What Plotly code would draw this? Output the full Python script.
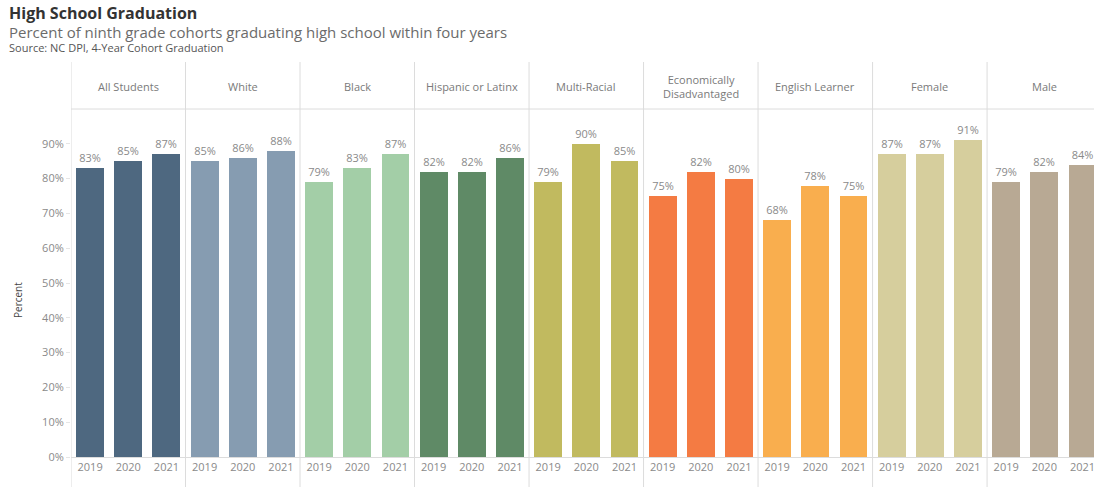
import plotly.graph_objects as go

groups = ["All Students", "White", "Black", "Hispanic or Latinx", "Multi-Racial",
          "Economically<br>Disadvantaged", "English Learner", "Female", "Male"]
years = ["2019", "2020", "2021"]
values = [
    [83, 85, 87],
    [85, 86, 88],
    [79, 83, 87],
    [82, 82, 86],
    [79, 90, 85],
    [75, 82, 80],
    [68, 78, 75],
    [87, 87, 91],
    [79, 82, 84],
]
colors = ["#4E6880", "#869CB1", "#A3CEA7", "#5F8A66", "#C1BA5F",
          "#F47B43", "#F9AE4E", "#D6CE9D", "#B8A994"]
y_ticks = [0, 10, 20, 30, 40, 50, 60, 70, 80, 90]

W, H = 1094, 487
ML, MT, MB = 71, 109, 30
PH = H - MT - MB
PW = W - ML

def xp(px):
    return (px - ML) / PW

def yp(py):
    return (H - MB - py) / PH

GRAY_TXT = "#8a8a8a"
LINE = "#dcdcdc"
FONT = "Open Sans"

fig = go.Figure()
xs_all, years_all = [], []
for g, (name, vals, col) in enumerate(zip(groups, values, colors)):
    xs = [3 * g + k for k in range(len(vals))]
    xs_all += xs
    years_all += years
    fig.add_trace(go.Bar(
        x=xs, y=vals, width=0.73, marker=dict(color=col, line=dict(width=0)),
        text=[f"{v}%" for v in vals], textposition="outside",
        textfont=dict(color=GRAY_TXT, size=11, family=FONT),
        cliponaxis=False, showlegend=False, name=name.replace("<br>", " "),
    ))

shapes = []
for g in range(len(groups)):
    shapes.append(dict(type="line", xref="x", yref="paper",
                       x0=3 * g - 0.5, x1=3 * g - 0.5,
                       y0=yp(487), y1=yp(62), line=dict(color=LINE, width=1)))
shapes.append(dict(type="line", xref="paper", yref="paper", x0=0, x1=1,
                   y0=yp(109), y1=yp(109), line=dict(color=LINE, width=1)))

annotations = []
for g, name in enumerate(groups):
    annotations.append(dict(x=3 * g + 1, xref="x", y=yp(86), yref="paper",
                            text=name, showarrow=False,
                            font=dict(color="#7a7a7a", size=11, family=FONT),
                            xanchor="center", yanchor="middle"))
annotations += [
    dict(x=xp(7), y=yp(13), xref="paper", yref="paper", text="<b>High School Graduation</b>",
         showarrow=False, xanchor="left", yanchor="middle",
         font=dict(size=16, color="#333333", family=FONT)),
    dict(x=xp(7), y=yp(32), xref="paper", yref="paper",
         text="Percent of ninth grade cohorts graduating high school within four years",
         showarrow=False, xanchor="left", yanchor="middle",
         font=dict(size=15, color="#6b6b6b", family=FONT)),
    dict(x=xp(7), y=yp(47), xref="paper", yref="paper",
         text="Source: NC DPI, 4-Year Cohort Graduation",
         showarrow=False, xanchor="left", yanchor="middle",
         font=dict(size=11, color="#555555", family=FONT)),
    dict(x=xp(18), y=yp(300), xref="paper", yref="paper", text="Percent",
         showarrow=False, textangle=-90, xanchor="center", yanchor="middle",
         font=dict(size=10, color="#444444", family=FONT)),
]

fig.update_layout(
    width=W, height=H,
    margin=dict(l=ML, r=0, t=MT, b=MB, pad=0),
    paper_bgcolor="white", plot_bgcolor="white",
    bargap=0, shapes=shapes, annotations=annotations,
    font=dict(family=FONT),
    xaxis=dict(range=[-0.5, -0.5 + PW / 38.17], tickmode="array",
               tickvals=xs_all, ticktext=years_all, showgrid=False, zeroline=False,
               showline=True, linecolor=LINE, linewidth=1, ticks="",
               ticklabeloverflow="allow",
               tickfont=dict(color=GRAY_TXT, size=11, family=FONT)),
    yaxis=dict(range=[0, 100], tickmode="array", tickvals=y_ticks,
               ticktext=[f"{t}%" for t in y_ticks], showgrid=False, zeroline=False,
               showline=False, ticks="outside", ticklen=4, tickcolor="#e6e6e6",
               tickfont=dict(color=GRAY_TXT, size=11, family=FONT)),
)

fig.write_html("out.html")
